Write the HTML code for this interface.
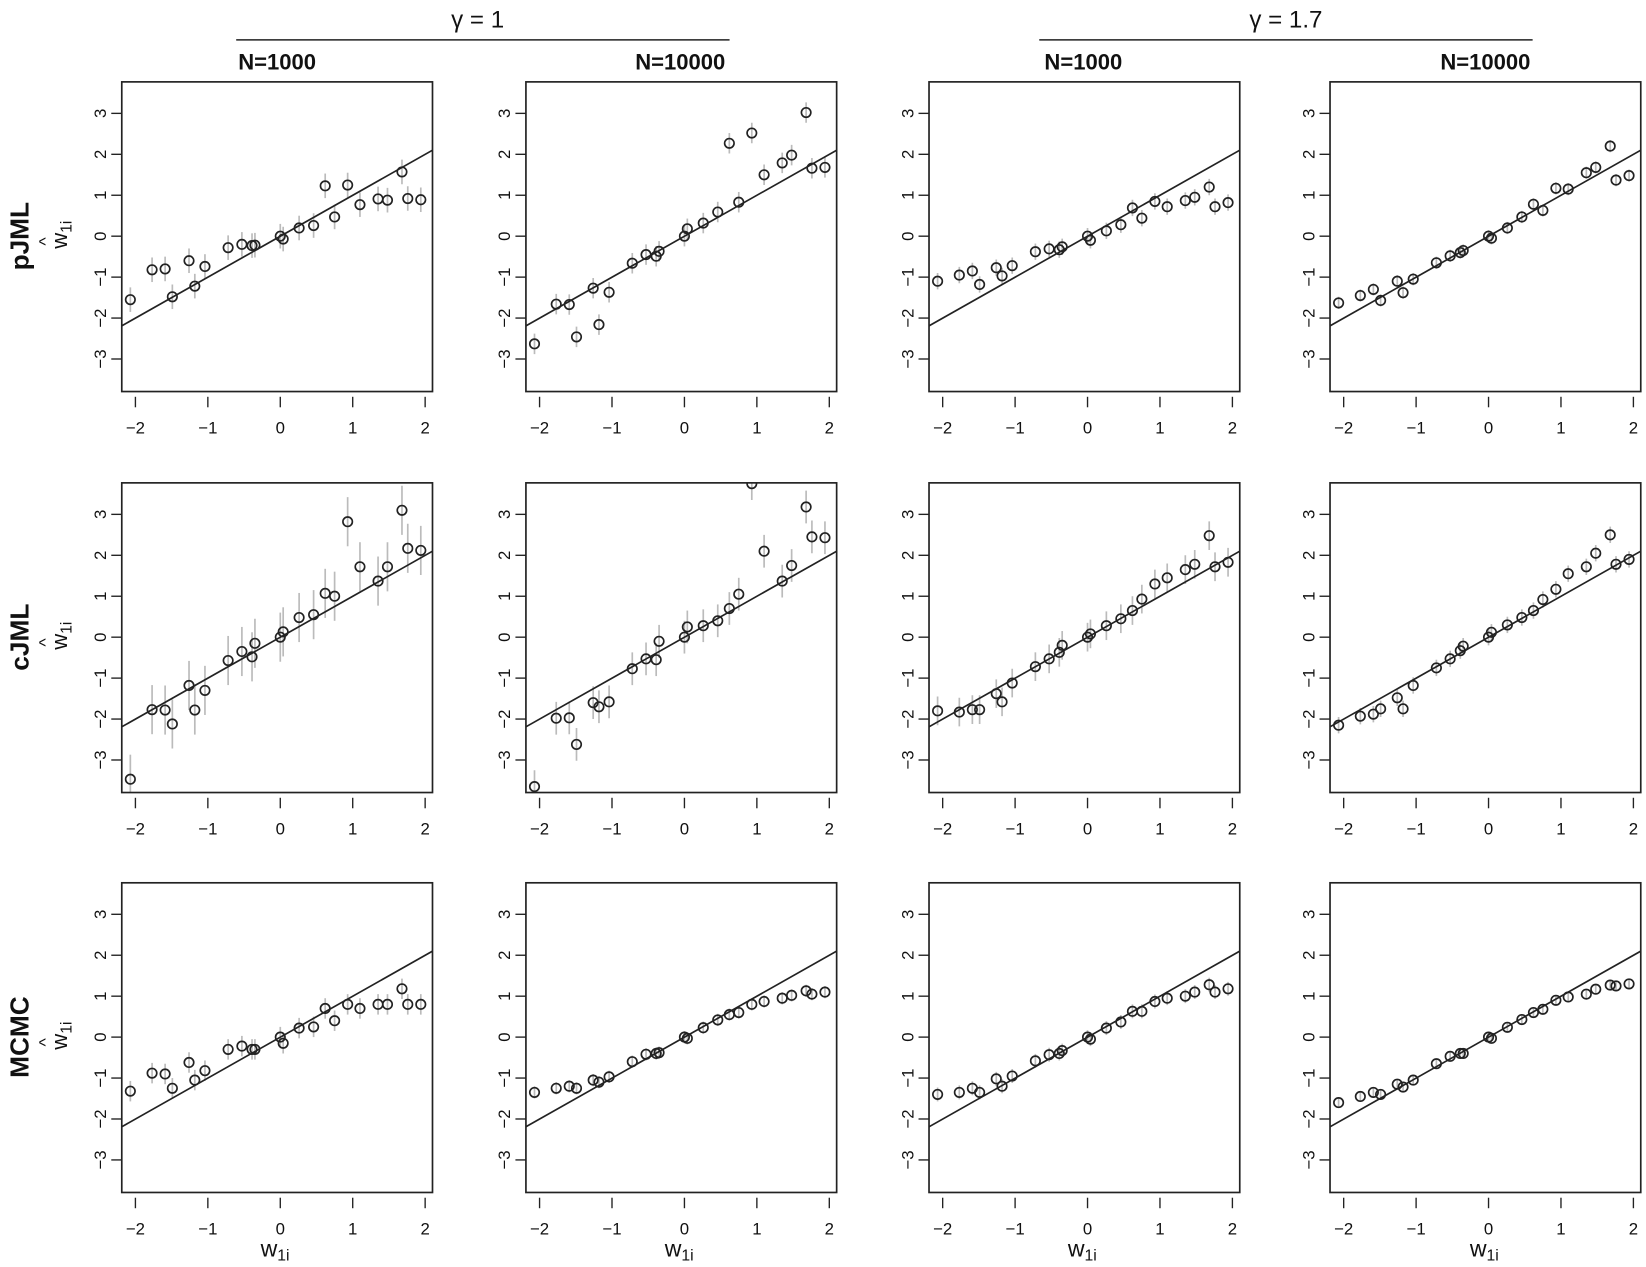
<!DOCTYPE html>
<html><head><meta charset="utf-8"><style>
html,body{margin:0;padding:0;background:#fff}
svg{display:block}
text{font-family:"Liberation Sans",Arial,sans-serif;fill:#111}
</style></head><body>
<svg id="s" width="1646" height="1267" viewBox="0 0 1568 1207" preserveAspectRatio="none" xmlns="http://www.w3.org/2000/svg">
<rect width="1568" height="1207" fill="#fff"/>
<text x="455" y="26" font-size="23" text-anchor="middle">γ = 1</text>
<line x1="225" y1="38" x2="695" y2="38" stroke="#222" stroke-width="1.5"/>
<text x="1225" y="26" font-size="23" text-anchor="middle">γ = 1.7</text>
<line x1="990" y1="38" x2="1460" y2="38" stroke="#222" stroke-width="1.5"/>
<text x="264" y="66" font-size="21" font-weight="bold" text-anchor="middle">N=1000</text>
<text x="648" y="66" font-size="21" font-weight="bold" text-anchor="middle">N=10000</text>
<text x="1032" y="66" font-size="21" font-weight="bold" text-anchor="middle">N=1000</text>
<text x="1415" y="66" font-size="21" font-weight="bold" text-anchor="middle">N=10000</text>

<text transform="translate(27,225) rotate(-90)" font-size="25" font-weight="bold" text-anchor="middle">pJML</text>
<text transform="translate(27,607) rotate(-90)" font-size="25" font-weight="bold" text-anchor="middle">cJML</text>
<text transform="translate(27,988) rotate(-90)" font-size="25" font-weight="bold" text-anchor="middle">MCMC</text>

<g transform="translate(64,225) rotate(-90)"><text x="-12" y="0" font-size="21">w<tspan font-size="15" dy="4">1i</tspan></text><text x="-9" y="-15" font-size="17">^</text></g>
<g transform="translate(64,607) rotate(-90)"><text x="-12" y="0" font-size="21">w<tspan font-size="15" dy="4">1i</tspan></text><text x="-9" y="-15" font-size="17">^</text></g>
<g transform="translate(64,988) rotate(-90)"><text x="-12" y="0" font-size="21">w<tspan font-size="15" dy="4">1i</tspan></text><text x="-9" y="-15" font-size="17">^</text></g>

<text x="262" y="1197" font-size="22" text-anchor="middle">w<tspan font-size="15" dy="4">1i</tspan></text>
<text x="647" y="1197" font-size="22" text-anchor="middle">w<tspan font-size="15" dy="4">1i</tspan></text>
<text x="1031" y="1197" font-size="22" text-anchor="middle">w<tspan font-size="15" dy="4">1i</tspan></text>
<text x="1414" y="1197" font-size="22" text-anchor="middle">w<tspan font-size="15" dy="4">1i</tspan></text>
</svg>
<script>
var s=document.getElementById('s'),NS='http://www.w3.org/2000/svg';
function el(n,a,p){var e=document.createElementNS(NS,n);for(var k in a)e.setAttribute(k,a[k]);(p||s).appendChild(e);return e;}
var X=[-2.07,-1.77,-1.59,-1.49,-1.26,-1.18,-1.04,-0.72,-0.53,-0.39,-0.35,0,0.04,0.26,0.46,0.62,0.75,0.93,1.1,1.35,1.48,1.68,1.76,1.94];
var D=[
[[-1.55,-0.82,-0.80,-1.48,-0.6,-1.22,-0.74,-0.28,-0.2,-0.23,-0.22,0,-0.07,0.2,0.26,1.23,0.47,1.25,0.77,0.91,0.88,1.57,0.92,0.89],0.3],
[[-2.63,-1.66,-1.67,-2.46,-1.27,-2.16,-1.37,-0.66,-0.45,-0.49,-0.37,0,0.18,0.32,0.59,2.27,0.83,2.52,1.5,1.79,1.98,3.02,1.66,1.68],0.25],
[[-1.1,-0.95,-0.85,-1.18,-0.77,-0.97,-0.72,-0.38,-0.31,-0.33,-0.26,0,-0.1,0.13,0.28,0.69,0.44,0.85,0.72,0.87,0.95,1.2,0.72,0.82],0.2],
[[-1.63,-1.45,-1.3,-1.57,-1.1,-1.38,-1.05,-0.65,-0.48,-0.4,-0.35,0,-0.05,0.2,0.47,0.78,0.63,1.17,1.15,1.55,1.68,2.2,1.37,1.48],0.15],
[[-3.47,-1.77,-1.78,-2.12,-1.18,-1.78,-1.3,-0.57,-0.35,-0.48,-0.15,0,0.13,0.48,0.55,1.07,1.0,2.82,1.72,1.37,1.72,3.1,2.17,2.12],0.6],
[[-3.65,-1.98,-1.97,-2.62,-1.6,-1.7,-1.58,-0.77,-0.53,-0.55,-0.1,0,0.25,0.28,0.4,0.7,1.05,3.75,2.1,1.37,1.75,3.18,2.45,2.43],0.4],
[[-1.8,-1.83,-1.77,-1.77,-1.38,-1.58,-1.12,-0.72,-0.53,-0.37,-0.2,0,0.08,0.28,0.45,0.65,0.93,1.3,1.45,1.65,1.78,2.48,1.72,1.83],0.35],
[[-2.15,-1.93,-1.88,-1.75,-1.48,-1.75,-1.18,-0.75,-0.53,-0.33,-0.22,0,0.12,0.3,0.48,0.65,0.92,1.17,1.55,1.72,2.05,2.5,1.78,1.9],0.2],
[[-1.32,-0.88,-0.9,-1.25,-0.62,-1.05,-0.82,-0.3,-0.22,-0.3,-0.3,0,-0.15,0.22,0.25,0.7,0.4,0.8,0.7,0.8,0.8,1.18,0.8,0.8],0.25],
[[-1.35,-1.25,-1.2,-1.25,-1.05,-1.1,-0.97,-0.6,-0.42,-0.4,-0.38,0,-0.03,0.23,0.42,0.55,0.6,0.8,0.87,0.95,1.02,1.13,1.05,1.1],0.15],
[[-1.4,-1.35,-1.25,-1.35,-1.02,-1.2,-0.95,-0.58,-0.43,-0.4,-0.33,0,-0.05,0.22,0.37,0.63,0.63,0.87,0.95,1.0,1.1,1.28,1.1,1.18],0.17],
[[-1.6,-1.45,-1.35,-1.4,-1.15,-1.22,-1.05,-0.65,-0.47,-0.4,-0.4,0,-0.03,0.24,0.43,0.6,0.68,0.9,0.98,1.05,1.17,1.27,1.25,1.3],0.12]];
var L=[116,501,885,1267],T=[78,460,841],W=296,H=295;
for(var r=0;r<3;r++)for(var c=0;c<4;c++){
 var g=el('g',{transform:'translate('+L[c]+','+T[r]+')'});
 var cp='cp'+r+c;var cl=el('clipPath',{id:cp},g);el('rect',{x:0,y:0,width:W,height:H},cl);
 var d=D[r*4+c],pts=el('g',{'clip-path':'url(#'+cp+')'},g);
 for(var i=0;i<X.length;i++){var px=151+69*X[i],py=147-39*d[0][i],e=d[1]*39;
  el('line',{x1:px,y1:py-e,x2:px,y2:py+e,stroke:'#bbb','stroke-width':1.6},pts);}
 el('line',{x1:0,y1:147+2.19*39,x2:W,y2:147-2.1*39,stroke:'#222','stroke-width':1.6},pts);
 for(var i=0;i<X.length;i++){var px=151+69*X[i],py=147-39*d[0][i];
  el('circle',{cx:px,cy:py,r:4.5,fill:'none',stroke:'#222','stroke-width':1.6},pts);}
 el('rect',{x:0,y:0,width:W,height:H,fill:'none',stroke:'#222','stroke-width':1.6},g);
 for(var v=-3;v<=3;v++){var y=147-39*v;el('line',{x1:-10,y1:y,x2:0,y2:y,stroke:'#222','stroke-width':1.3},g);}
 for(var v=-2;v<=2;v++){var x=151+69*v;el('line',{x1:x,y1:H+5,x2:x,y2:H+15,stroke:'#222','stroke-width':1.3},g);}
}
</script>
<svg width="1646" height="1267" viewBox="0 0 1568 1207" preserveAspectRatio="none" style="position:absolute;left:0;top:0" xmlns="http://www.w3.org/2000/svg">
<g font-size="16" font-family="Liberation Sans, sans-serif" fill="#111">
<g transform="translate(116,78)"><g text-anchor="middle"><text transform="translate(-15,30) rotate(-90)">3</text><text transform="translate(-15,69) rotate(-90)">2</text><text transform="translate(-15,108) rotate(-90)">1</text><text transform="translate(-15,147) rotate(-90)">0</text><text transform="translate(-15,186) rotate(-90)">−1</text><text transform="translate(-15,225) rotate(-90)">−2</text><text transform="translate(-15,264) rotate(-90)">−3</text><text x="13" y="335">−2</text><text x="82" y="335">−1</text><text x="151" y="335">0</text><text x="220" y="335">1</text><text x="289" y="335">2</text></g></g>
<g transform="translate(501,78)"><g text-anchor="middle"><text transform="translate(-15,30) rotate(-90)">3</text><text transform="translate(-15,69) rotate(-90)">2</text><text transform="translate(-15,108) rotate(-90)">1</text><text transform="translate(-15,147) rotate(-90)">0</text><text transform="translate(-15,186) rotate(-90)">−1</text><text transform="translate(-15,225) rotate(-90)">−2</text><text transform="translate(-15,264) rotate(-90)">−3</text><text x="13" y="335">−2</text><text x="82" y="335">−1</text><text x="151" y="335">0</text><text x="220" y="335">1</text><text x="289" y="335">2</text></g></g>
<g transform="translate(885,78)"><g text-anchor="middle"><text transform="translate(-15,30) rotate(-90)">3</text><text transform="translate(-15,69) rotate(-90)">2</text><text transform="translate(-15,108) rotate(-90)">1</text><text transform="translate(-15,147) rotate(-90)">0</text><text transform="translate(-15,186) rotate(-90)">−1</text><text transform="translate(-15,225) rotate(-90)">−2</text><text transform="translate(-15,264) rotate(-90)">−3</text><text x="13" y="335">−2</text><text x="82" y="335">−1</text><text x="151" y="335">0</text><text x="220" y="335">1</text><text x="289" y="335">2</text></g></g>
<g transform="translate(1267,78)"><g text-anchor="middle"><text transform="translate(-15,30) rotate(-90)">3</text><text transform="translate(-15,69) rotate(-90)">2</text><text transform="translate(-15,108) rotate(-90)">1</text><text transform="translate(-15,147) rotate(-90)">0</text><text transform="translate(-15,186) rotate(-90)">−1</text><text transform="translate(-15,225) rotate(-90)">−2</text><text transform="translate(-15,264) rotate(-90)">−3</text><text x="13" y="335">−2</text><text x="82" y="335">−1</text><text x="151" y="335">0</text><text x="220" y="335">1</text><text x="289" y="335">2</text></g></g>
<g transform="translate(116,460)"><g text-anchor="middle"><text transform="translate(-15,30) rotate(-90)">3</text><text transform="translate(-15,69) rotate(-90)">2</text><text transform="translate(-15,108) rotate(-90)">1</text><text transform="translate(-15,147) rotate(-90)">0</text><text transform="translate(-15,186) rotate(-90)">−1</text><text transform="translate(-15,225) rotate(-90)">−2</text><text transform="translate(-15,264) rotate(-90)">−3</text><text x="13" y="335">−2</text><text x="82" y="335">−1</text><text x="151" y="335">0</text><text x="220" y="335">1</text><text x="289" y="335">2</text></g></g>
<g transform="translate(501,460)"><g text-anchor="middle"><text transform="translate(-15,30) rotate(-90)">3</text><text transform="translate(-15,69) rotate(-90)">2</text><text transform="translate(-15,108) rotate(-90)">1</text><text transform="translate(-15,147) rotate(-90)">0</text><text transform="translate(-15,186) rotate(-90)">−1</text><text transform="translate(-15,225) rotate(-90)">−2</text><text transform="translate(-15,264) rotate(-90)">−3</text><text x="13" y="335">−2</text><text x="82" y="335">−1</text><text x="151" y="335">0</text><text x="220" y="335">1</text><text x="289" y="335">2</text></g></g>
<g transform="translate(885,460)"><g text-anchor="middle"><text transform="translate(-15,30) rotate(-90)">3</text><text transform="translate(-15,69) rotate(-90)">2</text><text transform="translate(-15,108) rotate(-90)">1</text><text transform="translate(-15,147) rotate(-90)">0</text><text transform="translate(-15,186) rotate(-90)">−1</text><text transform="translate(-15,225) rotate(-90)">−2</text><text transform="translate(-15,264) rotate(-90)">−3</text><text x="13" y="335">−2</text><text x="82" y="335">−1</text><text x="151" y="335">0</text><text x="220" y="335">1</text><text x="289" y="335">2</text></g></g>
<g transform="translate(1267,460)"><g text-anchor="middle"><text transform="translate(-15,30) rotate(-90)">3</text><text transform="translate(-15,69) rotate(-90)">2</text><text transform="translate(-15,108) rotate(-90)">1</text><text transform="translate(-15,147) rotate(-90)">0</text><text transform="translate(-15,186) rotate(-90)">−1</text><text transform="translate(-15,225) rotate(-90)">−2</text><text transform="translate(-15,264) rotate(-90)">−3</text><text x="13" y="335">−2</text><text x="82" y="335">−1</text><text x="151" y="335">0</text><text x="220" y="335">1</text><text x="289" y="335">2</text></g></g>
<g transform="translate(116,841)"><g text-anchor="middle"><text transform="translate(-15,30) rotate(-90)">3</text><text transform="translate(-15,69) rotate(-90)">2</text><text transform="translate(-15,108) rotate(-90)">1</text><text transform="translate(-15,147) rotate(-90)">0</text><text transform="translate(-15,186) rotate(-90)">−1</text><text transform="translate(-15,225) rotate(-90)">−2</text><text transform="translate(-15,264) rotate(-90)">−3</text><text x="13" y="335">−2</text><text x="82" y="335">−1</text><text x="151" y="335">0</text><text x="220" y="335">1</text><text x="289" y="335">2</text></g></g>
<g transform="translate(501,841)"><g text-anchor="middle"><text transform="translate(-15,30) rotate(-90)">3</text><text transform="translate(-15,69) rotate(-90)">2</text><text transform="translate(-15,108) rotate(-90)">1</text><text transform="translate(-15,147) rotate(-90)">0</text><text transform="translate(-15,186) rotate(-90)">−1</text><text transform="translate(-15,225) rotate(-90)">−2</text><text transform="translate(-15,264) rotate(-90)">−3</text><text x="13" y="335">−2</text><text x="82" y="335">−1</text><text x="151" y="335">0</text><text x="220" y="335">1</text><text x="289" y="335">2</text></g></g>
<g transform="translate(885,841)"><g text-anchor="middle"><text transform="translate(-15,30) rotate(-90)">3</text><text transform="translate(-15,69) rotate(-90)">2</text><text transform="translate(-15,108) rotate(-90)">1</text><text transform="translate(-15,147) rotate(-90)">0</text><text transform="translate(-15,186) rotate(-90)">−1</text><text transform="translate(-15,225) rotate(-90)">−2</text><text transform="translate(-15,264) rotate(-90)">−3</text><text x="13" y="335">−2</text><text x="82" y="335">−1</text><text x="151" y="335">0</text><text x="220" y="335">1</text><text x="289" y="335">2</text></g></g>
<g transform="translate(1267,841)"><g text-anchor="middle"><text transform="translate(-15,30) rotate(-90)">3</text><text transform="translate(-15,69) rotate(-90)">2</text><text transform="translate(-15,108) rotate(-90)">1</text><text transform="translate(-15,147) rotate(-90)">0</text><text transform="translate(-15,186) rotate(-90)">−1</text><text transform="translate(-15,225) rotate(-90)">−2</text><text transform="translate(-15,264) rotate(-90)">−3</text><text x="13" y="335">−2</text><text x="82" y="335">−1</text><text x="151" y="335">0</text><text x="220" y="335">1</text><text x="289" y="335">2</text></g></g>
</g>
</svg>
</body></html>
